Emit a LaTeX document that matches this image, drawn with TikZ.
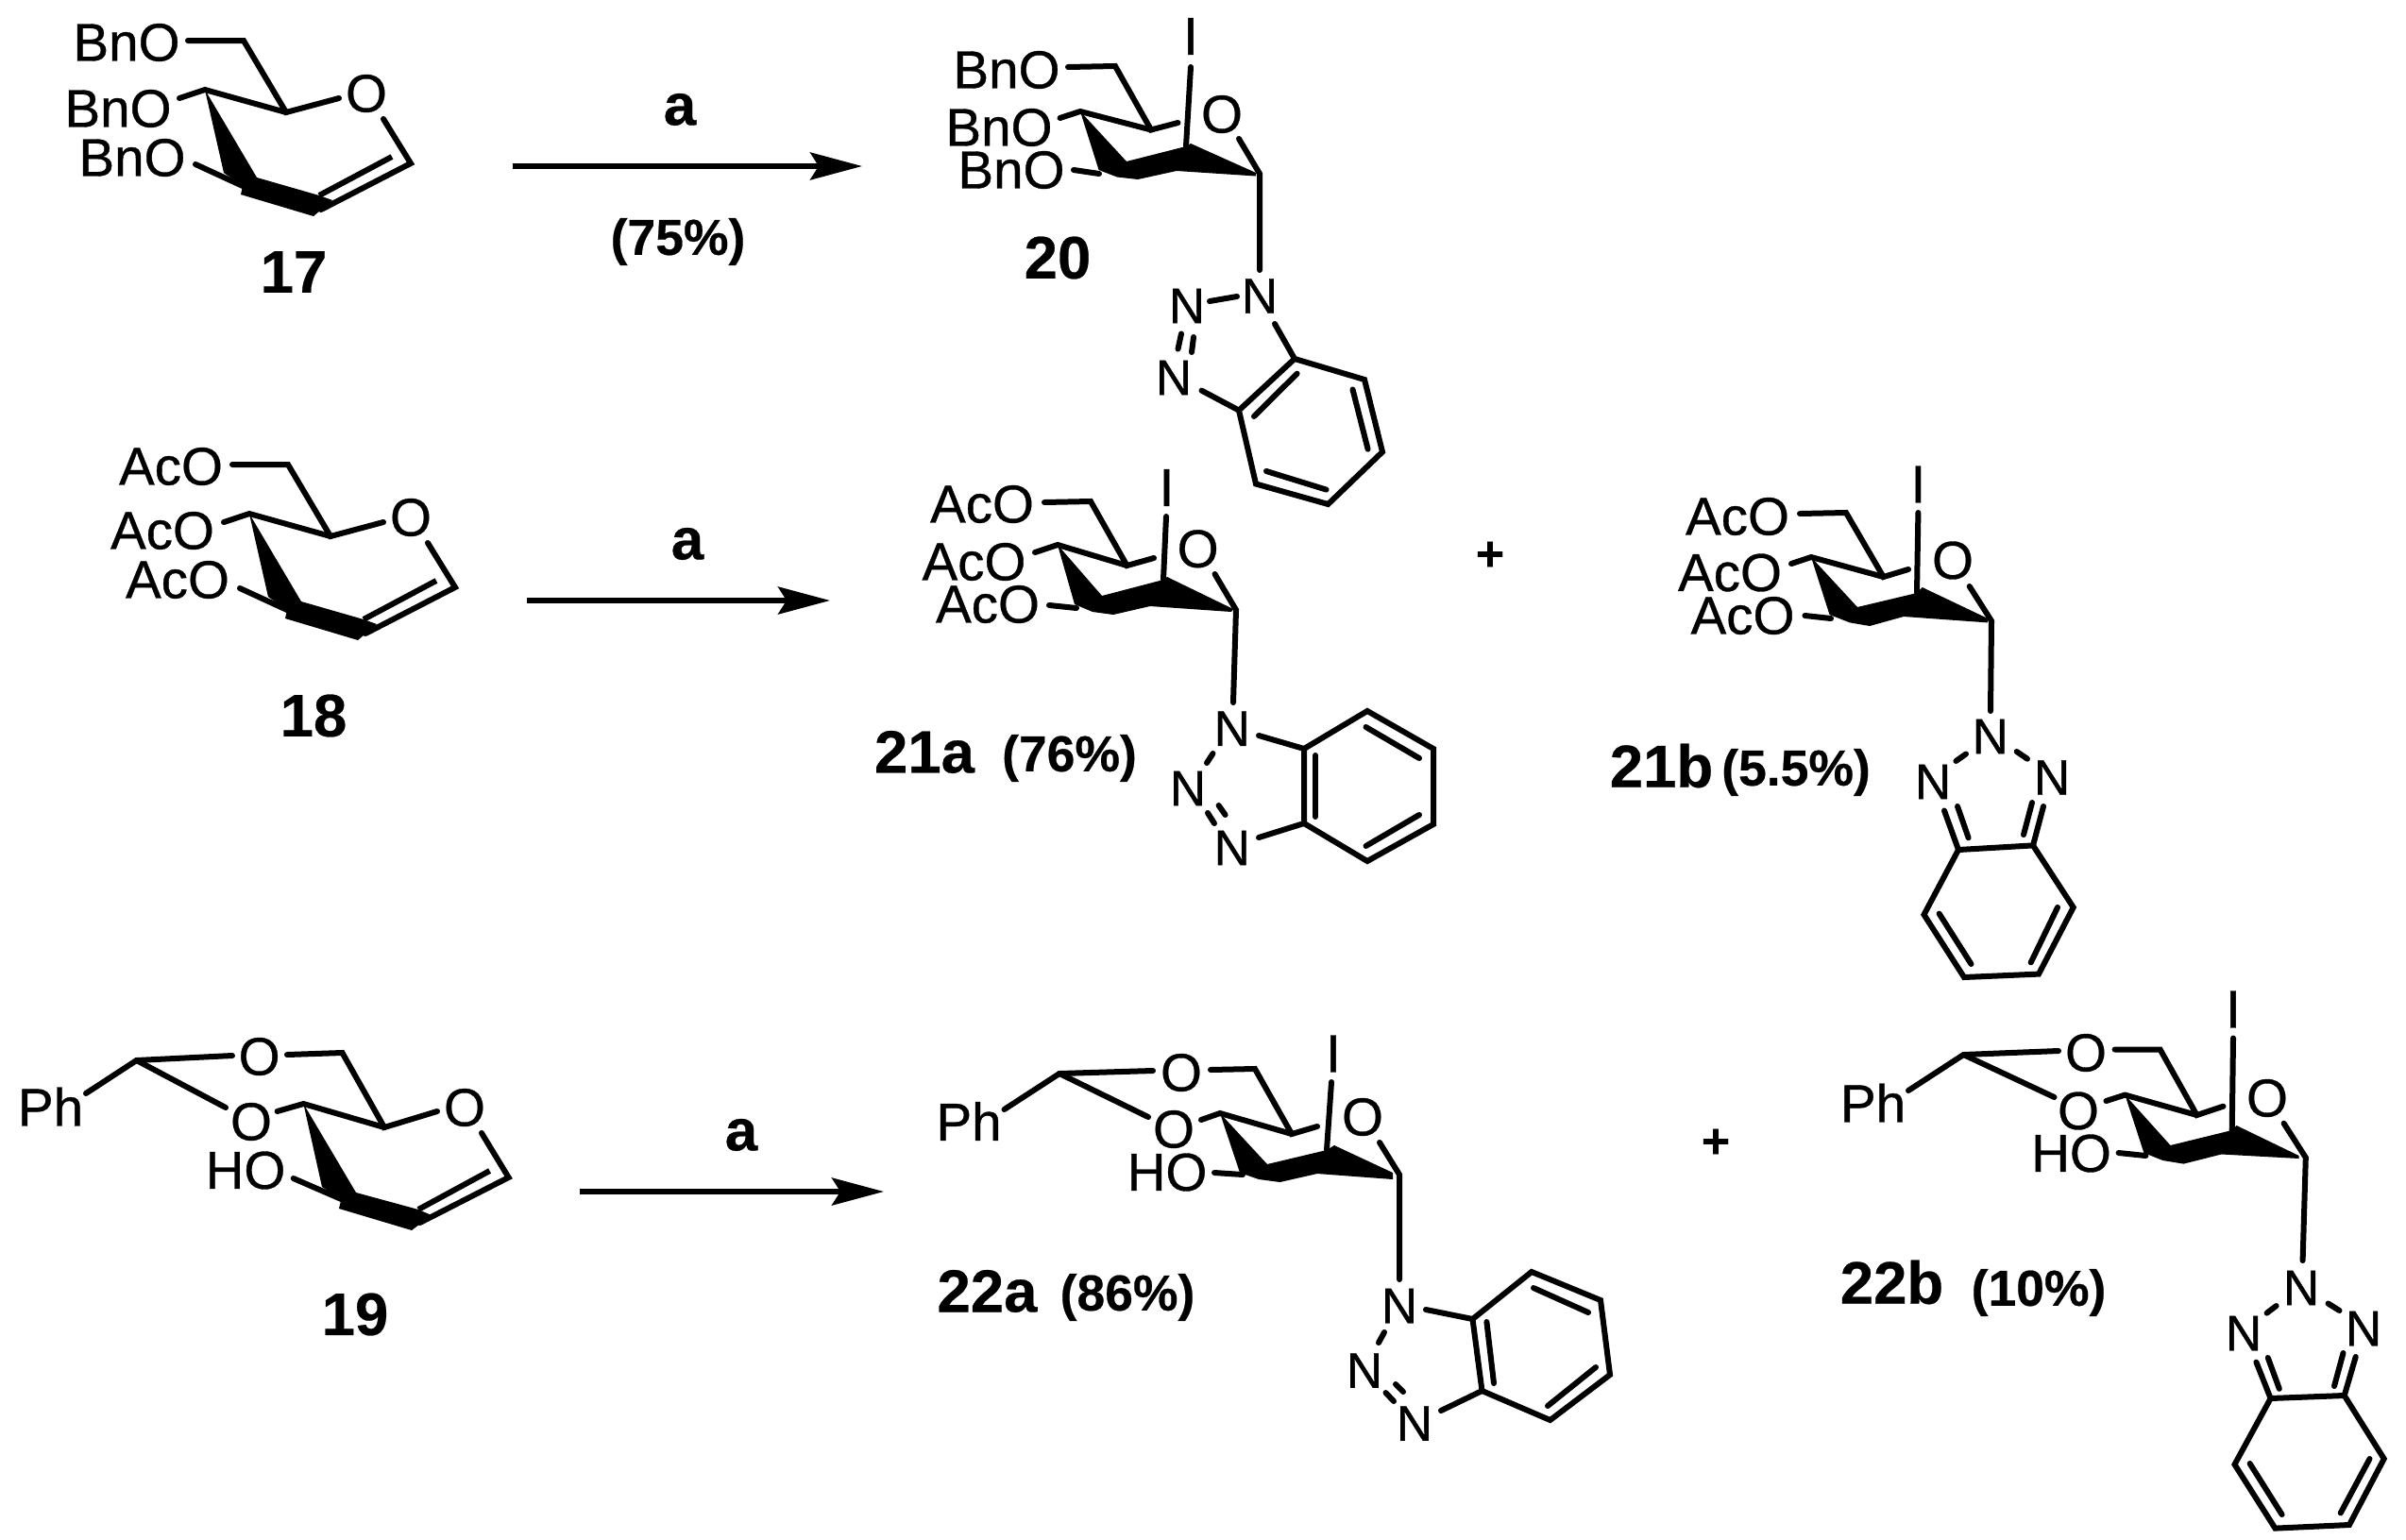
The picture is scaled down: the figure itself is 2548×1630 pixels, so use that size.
\documentclass[tikz,border=0pt]{standalone}
\usepackage{fontspec}
\setmainfont{Liberation Sans}[UprightFeatures={FakeBold=0.6},BoldFeatures={FakeBold=0.4}]
\usetikzlibrary{arrows.meta}
\newcommand{\mk}[3]{\coordinate (#1) at (#2,#3);}
\tikzset{
  bond/.style={line width=6pt,line cap=round,line join=miter},
  rxn/.style={line width=5.5pt,-{Stealth[length=55pt,width=29pt,inset=9pt]}},
  atomlab/.style={inner sep=0pt,font=\fontsize{56.5}{60}\selectfont},
  nlab/.style={inner sep=0pt,font=\fontsize{53}{60}\selectfont},
  cpd/.style={inner sep=0pt,font=\fontsize{63.5}{70}\selectfont\bfseries},
  yield/.style={inner sep=0pt,font=\fontsize{53.5}{60}\selectfont\bfseries},
  reag/.style={inner sep=0pt,font=\fontsize{62}{70}\selectfont\bfseries},
  plus/.style={inner sep=0pt,font=\fontsize{52}{60}\selectfont\bfseries},
}
% glycal ring drawn from named points of the enclosing scope
\newcommand{\glydraw}{%
  \draw[bond] (ch2e) -- (c6) -- (c5) -- (c5o);
  \draw[bond] (c4o) -- (c4) -- (c5);
  \fill (c4) -- (w2) -- (t) -- (r) -- (tip) -- (bl) -- (bl2) -- (w1) -- cycle;
  \draw[bond] (o3a) -- (bl2);
  \draw[bond] (oe) -- (c1) -- (c2o);
  \draw[bond,line cap=butt] (c2i) -- (t);
}
\newcommand{\glyA}{%
  \mk{ch2e}{199}{43}\mk{c6}{258}{43}\mk{c5}{303}{119}\mk{c5o}{359}{104}
  \mk{c4}{217}{95}\mk{c4o}{190}{104}\mk{w1}{237}{183}\mk{w2}{272}{188}
  \mk{t}{338}{207}\mk{r}{352}{212}\mk{tip}{332}{229}\mk{bl}{255}{206}\mk{bl2}{257}{197}
  \mk{o3a}{207}{174}\mk{c1}{435}{173}\mk{c2o}{340}{222}\mk{c2i}{415}{166}\mk{oe}{406}{126}
}
% pyranose ring drawn from named points
\newcommand{\pyrdraw}{%
  \draw[bond] (ch2e) -- (c6) -- (c5) -- (c5o);
  \draw[bond] (c4o) -- (c4) -- (c5);
  \fill (c4) -- (w2) -- (top) -- (apex) -- (c1w) -- (c1b) -- (b1) -- (b2) -- (b3) -- (w1) -- cycle;
  \draw[bond] (ib) -- (top);
  \draw[bond] (ora) -- (orb);
  \draw[bond] (oe) -- (c1) -- (ne);
}
% 1-substituted benzotriazole ring
\newcommand{\ringdraw}{%
  \draw[bond] (ra) -- (rb) -- (rc) -- (rd) -- (re) -- (rf) -- cycle;
  \draw[bond] (ia1) -- (ia2);
  \draw[bond] (ib1) -- (ib2);
  \draw[bond] (ic1) -- (ic2);
}
\begin{document}
\begin{tikzpicture}[x=1pt,y=-1pt]
\useasboundingbox (0,0) rectangle (2548,1630);
\fill[white] (0,0) rectangle (2548,1630);

%% ---------- 17
\begin{scope}[name prefix=s17-]
\glyA\glydraw
\node[atomlab] (l1) at (134,45) {BnO};
\node[atomlab] (l2) at (125,115) {BnO};
\node[atomlab] (l3) at (140,167) {BnO};
\node[atomlab] (o) at (388,99) {O};
\node[cpd] (n) at (311,288) {17};
\end{scope}

%% ---------- 18
\begin{scope}[shift={(47,449)},name prefix=s18-]
\glyA\glydraw
\end{scope}
\begin{scope}[name prefix=s18-]
\node[atomlab] (l1) at (181,494) {AcO};
\node[atomlab] (l2) at (172,562) {AcO};
\node[atomlab] (l3) at (188,614) {AcO};
\node[atomlab] (o) at (435,548) {O};
\node[cpd] (n) at (332,758) {18};
\end{scope}

%% ---------- 19
\begin{scope}[name prefix=s19-]
\mk{ch2e}{304}{1117}\mk{c6}{362.5}{1115}\mk{c5}{407}{1194}\mk{c5o}{463}{1177}
\mk{c4}{321.4}{1169}\mk{c4o}{293.6}{1177}\mk{w1}{341}{1257}\mk{w2}{377}{1263}
\mk{t}{443}{1281}\mk{r}{457}{1287}\mk{tip}{436}{1303}\mk{bl}{359}{1280}\mk{bl2}{361.4}{1270}
\mk{o3a}{310.7}{1248}\mk{c1}{538.6}{1247}\mk{c2o}{444.6}{1295}\mk{c2i}{518.6}{1240}\mk{oe}{510}{1200}
\mk{ac}{144.6}{1123}\mk{ace1}{246}{1118}\mk{ace2}{239}{1173}\mk{ace3}{91}{1158}
\glydraw
\draw[bond] (ace3) -- (ac) -- (ace1);
\draw[bond] (ac) -- (ace2);
\node[atomlab] (ph) at (53.5,1172) {Ph};
\node[atomlab] (o1) at (274.6,1119) {O};
\node[atomlab] (o2) at (266,1188) {O};
\node[atomlab] (ho) at (260,1239.5) {HO};
\node[atomlab] (o) at (492,1173) {O};
\node[cpd] (n) at (376,1392) {19};
\end{scope}

%% ---------- 20
\begin{scope}[name prefix=s20-]
\mk{ch2e}{1131}{71}\mk{c6}{1181}{70}\mk{c5}{1219}{137.5}\mk{c5o}{1247.5}{130}
\mk{c4}{1144}{118}\mk{c4o}{1122.5}{125}\mk{w1}{1163.6}{180}\mk{w2}{1193}{171}
\mk{top}{1256}{155}\mk{apex}{1261}{152}\mk{c1w}{1330}{183}\mk{c1b}{1330}{186.5}
\mk{b1}{1246}{181}\mk{b2}{1205}{190}\mk{b3}{1183}{187.5}
\mk{ib}{1261}{71}\mk{ora}{1137}{180}\mk{orb}{1164}{184}
\mk{oe}{1312}{147}\mk{c1}{1334}{184}\mk{ne}{1334}{286}
\pyrdraw
\node[atomlab] (i) at (1261,38.5) {I};
\node[atomlab] (l1) at (1066,74) {BnO};
\node[atomlab] (l2) at (1058,135) {BnO};
\node[atomlab] (l3) at (1071,180) {BnO};
\node[atomlab] (o) at (1294,121) {O};
\node[nlab] (n1) at (1334,313.5) {N};
\node[nlab] (n2) at (1257,324) {N};
\node[nlab] (n3) at (1243,400) {N};
\mk{ra}{1371}{380}\mk{rb}{1445}{402}\mk{rc}{1464}{478.6}\mk{rd}{1406.4}{534}\mk{re}{1330}{512.5}\mk{rf}{1312}{434.6}
\mk{ia1}{1373.6}{395.7}\mk{ia2}{1328}{441}\mk{ib1}{1432.5}{412.5}\mk{ib2}{1448.6}{475.7}\mk{ic1}{1404.6}{518.6}\mk{ic2}{1341}{499}
\ringdraw
\mk{x1}{1281}{319}\mk{x2}{1310}{314}\mk{x3}{1251}{353.5}\mk{x4}{1247.5}{369.6}\mk{x5}{1264}{357}\mk{x6}{1262}{373}
\mk{x7}{1272.5}{413.6}\mk{x8}{1350}{343}
\draw[bond] (x1) -- (x2);
\draw[bond] (x3) -- (x4);
\draw[bond] (x5) -- (x6);
\draw[bond] (x7) -- (rf);
\draw[bond] (x8) -- (ra);
\node[cpd] (lab) at (1120,273) {20};
\end{scope}

%% ---------- 21a
\begin{scope}[name prefix=s21a-]
\mk{ch2e}{1106}{532}\mk{c6}{1155}{531}\mk{c5}{1193.5}{599}\mk{c5o}{1222}{591}
\mk{c4}{1120}{577}\mk{c4o}{1096}{585}\mk{w1}{1138}{640}\mk{w2}{1167}{631}
\mk{top}{1232}{614}\mk{apex}{1236}{611}\mk{c1w}{1306}{645}\mk{c1b}{1304}{648}
\mk{b1}{1218}{642}\mk{b2}{1179}{651}\mk{b3}{1157}{648}
\mk{ib}{1235}{547}\mk{ora}{1111}{641}\mk{orb}{1140}{644}
\mk{oe}{1286.5}{608}\mk{c1}{1309}{646}\mk{ne}{1306}{744}
\pyrdraw
\node[atomlab] (i) at (1235.5,516.5) {I};
\node[atomlab] (l1) at (1040,534) {AcO};
\node[atomlab] (l2) at (1031.5,595) {AcO};
\node[atomlab] (l3) at (1046,640) {AcO};
\node[atomlab] (o) at (1268.6,581.3) {O};
\node[nlab] (n1) at (1304.7,771.7) {N};
\node[nlab] (n2) at (1258,835) {N};
\node[nlab] (n3) at (1304.7,898) {N};
\mk{ra}{1381}{793}\mk{rb}{1448}{753}\mk{rc}{1518}{793}\mk{rd}{1518}{873}\mk{re}{1448}{912}\mk{rf}{1381}{872}
\mk{ia1}{1393}{800}\mk{ia2}{1393}{865}\mk{ib1}{1446.5}{770}\mk{ib2}{1503}{803}\mk{ic1}{1503}{863}\mk{ic2}{1446.5}{896}
\ringdraw
\mk{x1}{1284.5}{798}\mk{x2}{1278}{808}\mk{x3}{1290.6}{853}\mk{x4}{1297.6}{863}\mk{x5}{1279}{861}\mk{x6}{1286}{872}
\mk{x7}{1333}{779}\mk{x8}{1333}{887}
\draw[bond] (x1) -- (x2);
\draw[bond] (x3) -- (x4);
\draw[bond] (x5) -- (x6);
\draw[bond] (x7) -- (ra);
\draw[bond] (x8) -- (rf);
\node[cpd] (lab) at (979,796.5) {21a};
\node[yield] (yl) at (1132.5,803) {(76\%)};
\end{scope}

%% ---------- 21b
\begin{scope}[name prefix=s21b-]
\mk{ch2e}{1906}{544}\mk{c6}{1955}{543}\mk{c5}{1994.6}{611}\mk{c5o}{2021}{603}
\mk{c4}{1918}{590}\mk{c4o}{1897}{597}\mk{w1}{1937.5}{651}\mk{w2}{1967}{643}
\mk{top}{2030}{628}\mk{apex}{2035.7}{622}\mk{c1w}{2105}{655}\mk{c1b}{2105}{659.4}
\mk{b1}{2016}{653}\mk{b2}{1980}{663}\mk{b3}{1959}{659.4}
\mk{ib}{2031.4}{543}\mk{ora}{1911.4}{652}\mk{orb}{1939}{655}
\mk{oe}{2085.7}{621}\mk{c1}{2109}{657.6}\mk{ne}{2108}{753}
\pyrdraw
\node[atomlab] (i) at (2031.4,513) {I};
\node[atomlab] (l1) at (1840,547) {AcO};
\node[atomlab] (l2) at (1832,606.5) {AcO};
\node[atomlab] (l3) at (1845.5,652) {AcO};
\node[atomlab] (o) at (2068,593.5) {O};
\node[nlab] (n1) at (2107.7,780) {N};
\node[nlab] (n2) at (2047,828) {N};
\node[nlab] (n3) at (2173,823.5) {N};
\mk{ra}{2074}{900}\mk{rb}{2037.5}{968.7}\mk{rc}{2080}{1035}\mk{rd}{2159}{1031.6}\mk{re}{2195.7}{961}\mk{rf}{2153}{895.4}
\mk{x1}{2082}{798.5}\mk{x2}{2071.4}{806}\mk{x3}{2135.7}{796}\mk{x4}{2147}{803.7}
\mk{x5}{2059}{858.5}\mk{x6}{2073}{854}\mk{x7}{2084.6}{887.3}
\mk{x8}{2164}{854}\mk{x9}{2152}{850}\mk{x10}{2143}{884}
\mk{y1}{2053.6}{967.6}\mk{y2}{2087.5}{1021}\mk{y3}{2179}{961}\mk{y4}{2150.7}{1019.4}
\draw[bond] (ra) -- (rb) -- (rc) -- (rd) -- (re) -- (rf) -- cycle;
\draw[bond] (x1) -- (x2);
\draw[bond] (x3) -- (x4);
\draw[bond] (x5) -- (ra);
\draw[bond] (x6) -- (x7);
\draw[bond] (x8) -- (rf);
\draw[bond] (x9) -- (x10);
\draw[bond] (y1) -- (y2);
\draw[bond] (y3) -- (y4);
\node[cpd] (lab) at (1759.5,811) {21b};
\node[yield] (yl) at (1902,818) {(5.5\%)};
\end{scope}

%% ---------- 22a
\begin{scope}[name prefix=s22a-]
\mk{ch2e}{1282}{1133}\mk{c6}{1329}{1132}\mk{c5}{1368}{1201}\mk{c5o}{1395}{1193}
\mk{c4}{1292}{1179}\mk{c4o}{1272}{1186}\mk{w1}{1313}{1242}\mk{w2}{1342}{1233}
\mk{top}{1405}{1218}\mk{apex}{1413}{1213}\mk{c1w}{1475}{1242}\mk{c1b}{1475}{1249}
\mk{b1}{1395}{1243}\mk{b2}{1355.5}{1252}\mk{b3}{1333}{1249}
\mk{ib}{1410}{1146}\mk{ora}{1286}{1242}\mk{orb}{1316}{1244}
\mk{oe}{1461}{1210}\mk{c1}{1482}{1244}\mk{ne}{1482}{1355}
\pyrdraw
\mk{ac}{1122}{1137}\mk{ace1}{1221}{1134}\mk{ace2}{1216}{1183}\mk{ace3}{1063.5}{1175}
\draw[bond] (ace3) -- (ac) -- (ace1);
\draw[bond] (ac) -- (ace2);
\node[atomlab] (i) at (1412,1116) {I};
\node[atomlab] (ph) at (1026,1187.5) {Ph};
\node[atomlab] (o1) at (1251,1136) {O};
\node[atomlab] (o2) at (1243,1196) {O};
\node[atomlab] (ho) at (1236,1241.5) {HO};
\node[atomlab] (o) at (1443,1183) {O};
\node[nlab] (n1) at (1482,1383) {N};
\node[nlab] (n2) at (1445,1451.5) {N};
\node[nlab] (n3) at (1498,1507.5) {N};
\mk{ra}{1559.5}{1397}\mk{rb}{1622}{1347}\mk{rc}{1695}{1377}\mk{rd}{1705}{1456}\mk{re}{1641.6}{1504}\mk{rf}{1569.5}{1473}
\mk{ia1}{1574.4}{1400}\mk{ia2}{1582}{1465}\mk{ib1}{1624}{1364}\mk{ib2}{1682}{1390}\mk{ic1}{1690}{1448}\mk{ic2}{1639}{1489}
\ringdraw
\mk{x1}{1466}{1411}\mk{x2}{1460}{1422}\mk{x3}{1478}{1466}\mk{x4}{1486}{1474}\mk{x5}{1467.5}{1475}\mk{x6}{1476}{1484}
\mk{x7}{1510}{1387}\mk{x8}{1526}{1494}
\draw[bond] (x1) -- (x2);
\draw[bond] (x3) -- (x4);
\draw[bond] (x5) -- (x6);
\draw[bond] (x7) -- (ra);
\draw[bond] (x8) -- (rf);
\node[cpd] (lab) at (1045.5,1367.5) {22a};
\node[yield] (yl) at (1194,1374) {(86\%)};
\end{scope}

%% ---------- 22b
\begin{scope}[name prefix=s22b-]
\mk{ch2e}{2239.6}{1111.5}\mk{c6}{2287.6}{1111.5}\mk{c5}{2326.5}{1181}\mk{c5o}{2354.5}{1171.7}
\mk{c4}{2250.4}{1159.6}\mk{c4o}{2230.4}{1166}\mk{w1}{2270.4}{1221}\mk{w2}{2298.5}{1213}
\mk{top}{2363.7}{1197}\mk{apex}{2368.5}{1192}\mk{c1w}{2434.6}{1224}\mk{c1b}{2434.6}{1227}
\mk{b1}{2352.5}{1222.5}\mk{b2}{2312.5}{1232.6}\mk{b3}{2290.4}{1229}
\mk{ib}{2365}{1099.5}\mk{ora}{2243.6}{1221}\mk{orb}{2272.4}{1224}
\mk{oe}{2418.6}{1189.7}\mk{c1}{2441.8}{1226}\mk{ne}{2438.6}{1335}
\pyrdraw
\mk{ac}{2079.4}{1117}\mk{ace1}{2180}{1113}\mk{ace2}{2175.5}{1162}\mk{ace3}{2021}{1155}
\draw[bond] (ace3) -- (ac) -- (ace1);
\draw[bond] (ac) -- (ace2);
\node[atomlab] (i) at (2365,1069) {I};
\node[atomlab] (ph) at (1983.5,1168) {Ph};
\node[atomlab] (o1) at (2209,1115) {O};
\node[atomlab] (o2) at (2201,1176.5) {O};
\node[atomlab] (ho) at (2193.5,1221.5) {HO};
\node[atomlab] (o) at (2401,1163) {O};
\node[nlab] (n1) at (2437,1364) {N};
\node[nlab] (n2) at (2376,1412) {N};
\node[nlab] (n3) at (2503,1407) {N};
\mk{ra}{2404.6}{1481}\mk{rb}{2366.5}{1551}\mk{rc}{2409.4}{1618.6}\mk{rd}{2487.9}{1615}\mk{re}{2524.7}{1545}\mk{rf}{2482.7}{1478}
\mk{x1}{2410.6}{1383}\mk{x2}{2400.6}{1390.6}\mk{x3}{2465.5}{1380.5}\mk{x4}{2477.5}{1388}
\mk{x5}{2389.4}{1442.6}\mk{x6}{2401.8}{1438}\mk{x7}{2413.8}{1470.8}
\mk{x8}{2494.7}{1437}\mk{x9}{2481.5}{1433}\mk{x10}{2472}{1468}
\mk{y1}{2382.6}{1550}\mk{y2}{2416.6}{1604}\mk{y3}{2509.5}{1545}\mk{y4}{2478.7}{1602.4}
\draw[bond] (ra) -- (rb) -- (rc) -- (rd) -- (re) -- (rf) -- cycle;
\draw[bond] (x1) -- (x2);
\draw[bond] (x3) -- (x4);
\draw[bond] (x5) -- (ra);
\draw[bond] (x6) -- (x7);
\draw[bond] (x8) -- (rf);
\draw[bond] (x9) -- (x10);
\draw[bond] (y1) -- (y2);
\draw[bond] (y3) -- (y4);
\node[cpd] (lab) at (2003.5,1358) {22b};
\node[yield] (yl) at (2159,1369) {(10\%)};
\end{scope}

%% ---------- reaction arrows
\mk{a1s}{543}{176}\mk{a1e}{913}{176}
\mk{a2s}{558}{636}\mk{a2e}{879}{636}
\mk{a3s}{614}{1262}\mk{a3e}{936}{1262}
\draw[rxn] (a1s) -- (a1e);
\draw[rxn] (a2s) -- (a2e);
\draw[rxn] (a3s) -- (a3e);
\node[reag] (ra1) at (720,116) {a};
\node[reag] (ra2) at (728,576) {a};
\node[reag] (ra3) at (785,1202) {a};
\node[yield] (y1) at (718,256) {(75\%)};
\node[plus] (p1) at (1578,589) {+};
\node[plus] (p2) at (1817,1211) {+};
\end{tikzpicture}
\end{document}
